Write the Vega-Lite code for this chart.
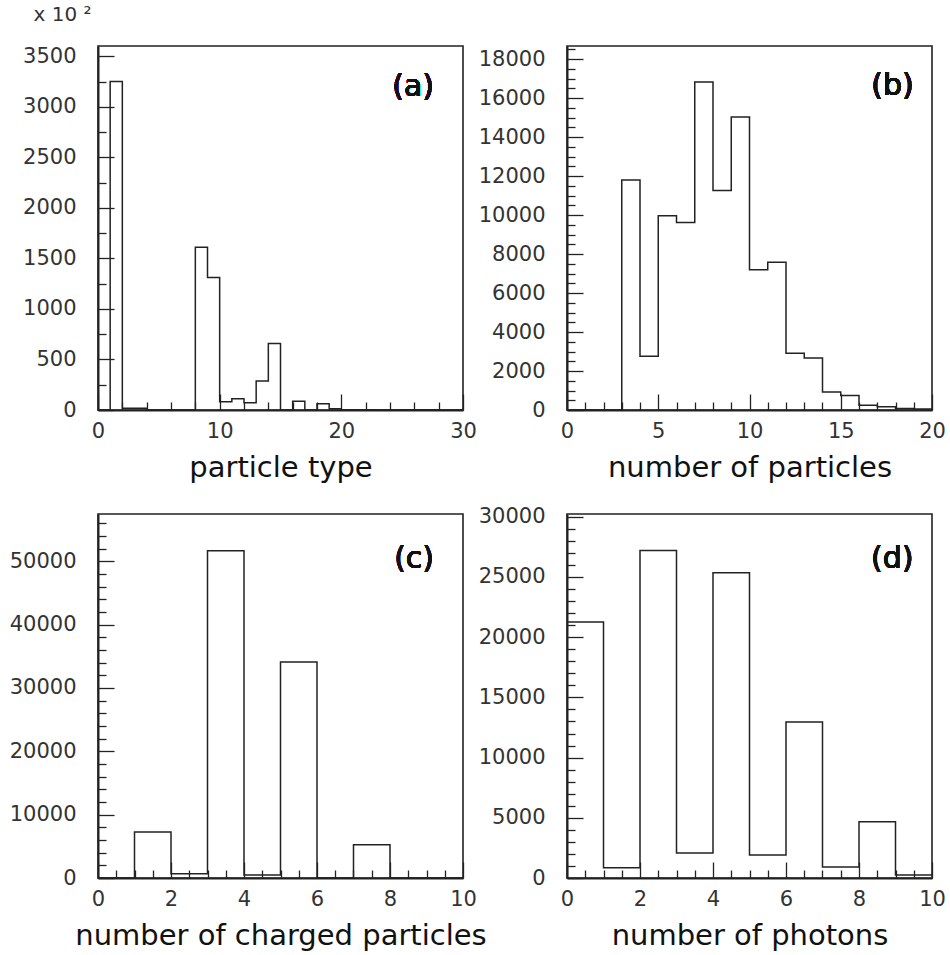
{
  "$schema": "https://vega.github.io/schema/vega-lite/v6.json",
  "padding": {"left": 8, "top": 3, "right": 0, "bottom": 0},
  "background": "white",
  "data": {"values": [
    {"p":"a","lo":0,"hi":1,"n":0},{"p":"a","lo":1,"hi":2,"n":3250},{"p":"a","lo":2,"hi":3,"n":17},{"p":"a","lo":3,"hi":4,"n":17},
    {"p":"a","lo":4,"hi":5,"n":0},{"p":"a","lo":5,"hi":6,"n":0},{"p":"a","lo":6,"hi":7,"n":0},{"p":"a","lo":7,"hi":8,"n":0},
    {"p":"a","lo":8,"hi":9,"n":1610},{"p":"a","lo":9,"hi":10,"n":1310},{"p":"a","lo":10,"hi":11,"n":82},{"p":"a","lo":11,"hi":12,"n":112},
    {"p":"a","lo":12,"hi":13,"n":72},{"p":"a","lo":13,"hi":14,"n":287},{"p":"a","lo":14,"hi":15,"n":657},{"p":"a","lo":15,"hi":16,"n":0},
    {"p":"a","lo":16,"hi":17,"n":86},{"p":"a","lo":17,"hi":18,"n":0},{"p":"a","lo":18,"hi":19,"n":62},{"p":"a","lo":19,"hi":20,"n":13},
    {"p":"a","lo":20,"hi":21,"n":3},{"p":"a","lo":21,"hi":22,"n":2},{"p":"a","lo":22,"hi":23,"n":2},{"p":"a","lo":23,"hi":24,"n":1},
    {"p":"a","lo":24,"hi":25,"n":1},{"p":"a","lo":25,"hi":26,"n":2},{"p":"a","lo":26,"hi":27,"n":3},{"p":"a","lo":27,"hi":28,"n":2},
    {"p":"a","lo":28,"hi":29,"n":1},{"p":"a","lo":29,"hi":30,"n":1},
    {"p":"b","lo":0,"hi":1,"n":0},{"p":"b","lo":1,"hi":2,"n":0},{"p":"b","lo":2,"hi":3,"n":0},{"p":"b","lo":3,"hi":4,"n":11800},
    {"p":"b","lo":4,"hi":5,"n":2760},{"p":"b","lo":5,"hi":6,"n":9960},{"p":"b","lo":6,"hi":7,"n":9620},{"p":"b","lo":7,"hi":8,"n":16820},
    {"p":"b","lo":8,"hi":9,"n":11260},{"p":"b","lo":9,"hi":10,"n":15020},{"p":"b","lo":10,"hi":11,"n":7190},{"p":"b","lo":11,"hi":12,"n":7580},
    {"p":"b","lo":12,"hi":13,"n":2910},{"p":"b","lo":13,"hi":14,"n":2670},{"p":"b","lo":14,"hi":15,"n":924},{"p":"b","lo":15,"hi":16,"n":745},
    {"p":"b","lo":16,"hi":17,"n":241},{"p":"b","lo":17,"hi":18,"n":165},{"p":"b","lo":18,"hi":19,"n":72},{"p":"b","lo":19,"hi":20,"n":45},
    {"p":"c","lo":0,"hi":1,"n":0},{"p":"c","lo":1,"hi":2,"n":7260},{"p":"c","lo":2,"hi":3,"n":680},{"p":"c","lo":3,"hi":4,"n":51680},
    {"p":"c","lo":4,"hi":5,"n":470},{"p":"c","lo":5,"hi":6,"n":34100},{"p":"c","lo":6,"hi":7,"n":0},{"p":"c","lo":7,"hi":8,"n":5260},
    {"p":"c","lo":8,"hi":9,"n":0},{"p":"c","lo":9,"hi":10,"n":0},
    {"p":"d","lo":0,"hi":1,"n":21260},{"p":"d","lo":1,"hi":2,"n":860},{"p":"d","lo":2,"hi":3,"n":27190},{"p":"d","lo":3,"hi":4,"n":2080},
    {"p":"d","lo":4,"hi":5,"n":25360},{"p":"d","lo":5,"hi":6,"n":1910},{"p":"d","lo":6,"hi":7,"n":12960},{"p":"d","lo":7,"hi":8,"n":910},
    {"p":"d","lo":8,"hi":9,"n":4680},{"p":"d","lo":9,"hi":10,"n":250}
  ]},
  "config": {
    "view": {"stroke": "#222", "strokeWidth": 1.6},
    "axis": {
      "grid": false, "domainColor": "#222", "domainWidth": 2,
      "tickColor": "#222", "tickWidth": 1.3, "tickCount": 200,
      "labelFont": "DejaVu Sans", "labelFontSize": 21, "labelColor": "#333",
      "labelFlush": false, "labelOverlap": false, "format": "d",
      "titleFont": "DejaVu Sans", "titleFontSize": 29, "titleFontWeight": "normal", "titleColor": "#111"
    },
    "axisX": {"labelPadding": 26, "titleY": 66, "titleBaseline": "alphabetic"},
    "axisY": {"labelPadding": 38},
    "text": {"font": "DejaVu Sans", "fontSize": 30, "color": "#111"}
  },
  "columns": 2,
  "spacing": 104,
  "bounds": "flush",
  "concat": [
    {
      "width": 365, "height": 364,
      "transform": [{"filter": "datum.p === 'a'"}, {"fold": ["lo", "hi"], "as": ["edge", "x"]}],
      "resolve": {"axis": {"x": "independent", "y": "independent"}},
      "layer": [
        {
          "mark": {"type": "line", "color": "#222", "strokeWidth": 1.5},
          "encoding": {
            "x": {"field": "x", "type": "quantitative", "scale": {"domain": [0, 30], "nice": false, "zero": false},
              "axis": {"orient": "bottom", "values": [0,10,20,30], "tickSize": -16, "format": "d", "title": "particle type"}},
            "y": {"field": "n", "type": "quantitative", "scale": {"domain": [0, 3602], "nice": false},
              "axis": {"orient": "left", "values": [0,500,1000,1500,2000,2500,3000,3500], "tickSize": -16, "format": "d",
                "title": "x 10 ²", "titleAngle": 0, "titleX": -65, "titleY": -26, "titleAlign": "left",
                "titleBaseline": "alphabetic", "titleFontSize": 20, "titleColor": "#333"}},
            "order": [{"field": "x", "type": "quantitative"}, {"field": "edge", "sort": "ascending"}]
          }
        },
        {
          "mark": {"type": "text", "align": "center", "baseline": "middle"},
          "encoding": {
            "x": {"datum": 25.9, "type": "quantitative",
              "axis": {"orient": "bottom", "values": [2,4,6,8,12,14,16,18,22,24,26,28], "tickSize": -8, "labels": false, "domain": false, "title": null}},
            "y": {"datum": 3192, "type": "quantitative",
              "axis": {"orient": "left", "values": [250,750,1250,1750,2250,2750,3250], "tickSize": -8, "labels": false, "domain": false, "title": null}},
            "text": {"value": "(a)"}}
        }
      ]
    },
    {
      "width": 365, "height": 364,
      "transform": [{"filter": "datum.p === 'b'"}, {"fold": ["lo", "hi"], "as": ["edge", "x"]}],
      "resolve": {"axis": {"x": "independent", "y": "independent"}},
      "layer": [
        {
          "mark": {"type": "line", "color": "#222", "strokeWidth": 1.5},
          "encoding": {
            "x": {"field": "x", "type": "quantitative", "scale": {"domain": [0, 20], "nice": false, "zero": false},
              "axis": {"orient": "bottom", "values": [0,5,10,15,20], "tickSize": -16, "format": "d", "title": "number of particles"}},
            "y": {"field": "n", "type": "quantitative", "scale": {"domain": [0, 18667], "nice": false},
              "axis": {"orient": "left", "values": [0,2000,4000,6000,8000,10000,12000,14000,16000,18000], "tickSize": -16, "format": "d", "title": null}},
            "order": [{"field": "x", "type": "quantitative"}, {"field": "edge", "sort": "ascending"}]
          }
        },
        {
          "mark": {"type": "text", "align": "center", "baseline": "middle"},
          "encoding": {
            "x": {"datum": 17.83, "type": "quantitative",
              "axis": {"orient": "bottom", "values": [1,2,3,4,6,7,8,9,11,12,13,14,16,17,18,19], "tickSize": -8, "labels": false, "domain": false, "title": null}},
            "y": {"datum": 16614, "type": "quantitative",
              "axis": {"orient": "left", "values": [500,1000,1500,2500,3000,3500,4500,5000,5500,6500,7000,7500,8500,9000,9500,10500,11000,11500,12500,13000,13500,14500,15000,15500,16500,17000,17500,18500], "tickSize": -8, "labels": false, "domain": false, "title": null}},
            "text": {"value": "(b)"}}
        }
      ]
    },
    {
      "width": 365, "height": 364,
      "transform": [{"filter": "datum.p === 'c'"}, {"fold": ["lo", "hi"], "as": ["edge", "x"]}],
      "resolve": {"axis": {"x": "independent", "y": "independent"}},
      "layer": [
        {
          "mark": {"type": "line", "color": "#222", "strokeWidth": 1.5},
          "encoding": {
            "x": {"field": "x", "type": "quantitative", "scale": {"domain": [0, 10], "nice": false, "zero": false},
              "axis": {"orient": "bottom", "values": [0,2,4,6,8,10], "tickSize": -16, "format": "d", "title": "number of charged particles"}},
            "y": {"field": "n", "type": "quantitative", "scale": {"domain": [0, 57470], "nice": false},
              "axis": {"orient": "left", "values": [0,10000,20000,30000,40000,50000], "tickSize": -16, "format": "d", "title": null}},
            "order": [{"field": "x", "type": "quantitative"}, {"field": "edge", "sort": "ascending"}]
          }
        },
        {
          "mark": {"type": "text", "align": "center", "baseline": "middle"},
          "encoding": {
            "x": {"datum": 8.66, "type": "quantitative",
              "axis": {"orient": "bottom", "values": [0.5,1,1.5,2.5,3,3.5,4.5,5,5.5,6.5,7,7.5,8.5,9,9.5], "tickSize": -8, "labels": false, "domain": false, "title": null}},
            "y": {"datum": 50324, "type": "quantitative",
              "axis": {"orient": "left", "values": [2000,4000,6000,8000,12000,14000,16000,18000,22000,24000,26000,28000,32000,34000,36000,38000,42000,44000,46000,48000,52000,54000,56000], "tickSize": -8, "labels": false, "domain": false, "title": null}},
            "text": {"value": "(c)"}}
        }
      ]
    },
    {
      "width": 365, "height": 364,
      "transform": [{"filter": "datum.p === 'd'"}, {"fold": ["lo", "hi"], "as": ["edge", "x"]}],
      "resolve": {"axis": {"x": "independent", "y": "independent"}},
      "layer": [
        {
          "mark": {"type": "line", "color": "#222", "strokeWidth": 1.5},
          "encoding": {
            "x": {"field": "x", "type": "quantitative", "scale": {"domain": [0, 10], "nice": false, "zero": false},
              "axis": {"orient": "bottom", "values": [0,2,4,6,8,10], "tickSize": -16, "format": "d", "title": "number of photons"}},
            "y": {"field": "n", "type": "quantitative", "scale": {"domain": [0, 30230], "nice": false},
              "axis": {"orient": "left", "values": [0,5000,10000,15000,20000,25000,30000], "tickSize": -16, "format": "d", "title": null}},
            "order": [{"field": "x", "type": "quantitative"}, {"field": "edge", "sort": "ascending"}]
          }
        },
        {
          "mark": {"type": "text", "align": "center", "baseline": "middle"},
          "encoding": {
            "x": {"datum": 8.91, "type": "quantitative",
              "axis": {"orient": "bottom", "values": [0.5,1,1.5,2.5,3,3.5,4.5,5,5.5,6.5,7,7.5,8.5,9,9.5], "tickSize": -8, "labels": false, "domain": false, "title": null}},
            "y": {"datum": 26470, "type": "quantitative",
              "axis": {"orient": "left", "values": [1000,2000,3000,4000,6000,7000,8000,9000,11000,12000,13000,14000,16000,17000,18000,19000,21000,22000,23000,24000,26000,27000,28000,29000], "tickSize": -8, "labels": false, "domain": false, "title": null}},
            "text": {"value": "(d)"}}
        }
      ]
    }
  ]
}
